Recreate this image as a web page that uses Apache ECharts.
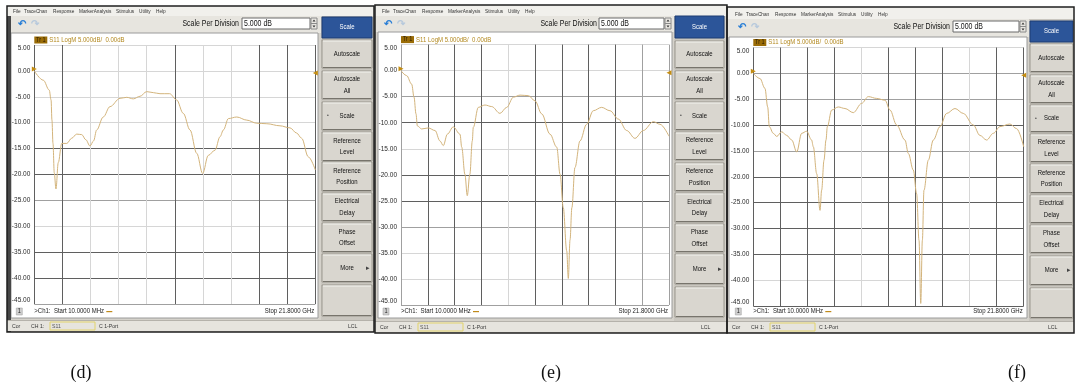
<!DOCTYPE html>
<html><head><meta charset="utf-8">
<script src="https://cdn.jsdelivr.net/npm/echarts@6/dist/echarts.min.js"></script>
<style>html,body{margin:0;padding:0;background:#fff}#c{width:1075px;height:389px}</style>
</head><body><div id="c"></div><script>
// ---- data ----
const freqD = [0.00,0.70,1.16,1.30,1.37,1.45,1.55,1.68,1.86,2.13,2.52,2.90,3.29,3.68,4.00,4.32,4.60,4.84,5.35,5.87,6.65,7.17,7.68,8.20,8.72,9.24,9.75,10.50,11.04,11.56,12.08,12.60,13.06,13.50,14.02,14.41,14.67,15.06,15.71,16.48,17.26,18.04,19.06,19.84,20.35,20.74,21.26,21.80];
const s11D  = [0.0,-1.8,-3.7,-5.6,-9.5,-14.0,-19.7,-22.8,-17.7,-14.0,-14.0,-13.0,-12.2,-12.3,-13.3,-14.5,-13.5,-11.4,-8.9,-6.9,-5.3,-5.1,-5.4,-4.9,-4.0,-4.2,-4.4,-4.4,-5.6,-8.2,-11.4,-15.9,-19.8,-16.3,-15.3,-12.7,-11.4,-9.2,-8.9,-9.5,-10.1,-10.2,-10.6,-11.0,-12.0,-13.0,-16.6,-19.1];
const freqE = [0.00,0.46,0.87,1.06,1.22,1.33,1.68,2.22,2.77,3.17,3.44,3.77,4.25,4.80,4.94,5.20,5.39,5.60,5.80,5.88,6.29,6.83,7.38,8.05,8.60,9.14,9.68,10.36,10.90,11.45,12.12,12.67,12.94,13.20,13.48,13.61,13.75,13.90,14.15,14.56,15.10,15.64,16.32,17.00,17.68,18.36,19.03,19.71,20.53,21.07,21.80];
const s11E  = [0.0,-0.96,-2.6,-5.1,-8.3,-10.6,-11.2,-11.0,-11.5,-13.5,-14.4,-12.2,-10.8,-12.2,-14.7,-19.9,-24.0,-19.9,-13.5,-10.9,-7.05,-6.6,-6.9,-8.2,-7.05,-5.1,-4.7,-4.8,-5.8,-8.3,-12.2,-14.7,-19.9,-26.3,-34.6,-39.9,-32.5,-26.3,-18.6,-13.5,-10.3,-7.7,-7.05,-7.7,-9.3,-11.5,-13.0,-11.5,-9.8,-10.3,-12.6];
const freqF = [0.00,0.54,0.94,1.16,1.29,1.61,1.89,2.29,2.69,3.10,3.50,3.90,4.30,4.70,4.84,5.11,5.38,5.51,5.70,5.86,5.97,6.32,6.85,7.39,8.06,8.74,9.27,9.95,10.62,11.02,11.56,12.23,12.50,12.90,13.17,13.36,13.50,13.63,13.76,14.11,14.51,15.05,15.59,16.26,16.93,17.74,18.27,18.81,19.35,19.89,20.69,21.23,21.80];
const s11F  = [0.0,-1.0,-2.9,-6.5,-10.3,-11.6,-12.2,-11.3,-12.0,-12.9,-15.2,-11.6,-11.2,-12.9,-14.2,-19.4,-26.5,-22.6,-16.8,-12.9,-10.3,-7.1,-6.5,-6.8,-7.6,-5.8,-4.5,-4.85,-5.2,-7.1,-10.0,-12.9,-15.5,-18.7,-23.3,-32.3,-44.5,-32.3,-22.6,-16.8,-12.9,-10.3,-7.75,-6.8,-7.75,-10.0,-12.0,-12.9,-11.6,-10.3,-9.8,-10.7,-14.2];
const yTickValues = [5,0,-5,-10,-15,-20,-25,-30,-35,-40,-45];
const xStartGHz = 0, xStopGHz = 21.8, xDivisions = 10;
const menuItems = ['File','TraceChan','Response','MarkerAnalysis','Stimulus','Utility','Help'];
const softkeys = ['Scale','Autoscale','Autoscale\nAll','Scale','Reference\nLevel','Reference\nPosition','Electrical\nDelay','Phase\nOffset','More',''];
const panelLabels = ['(d)','(e)','(f)'];
const traceHeader = 'S11 LogM 5.000dB/  0.00dB';
const scaleText = '5.000 dB';
const startText = '>Ch1:  Start 10.0000 MHz';
const stopText = 'Stop 21.8000 GHz';

// ---- layout & style ----
const DARK='#5f5f5f', MID='#a0a0a0', LIGHT='#d6d6d6';
const layouts = [
 {x0:7,x1:374,y0:6,y1:332, menuY:11, tbY:24, wx0:11, wx1:318, wy0:33, wy1:318, gl:34.3, gr:315.3, gt:45, gb:304, sx0:321, sx1:373,
  keys:[[17,38],[40,68],[71,99],[102,130],[132,161],[162,191],[193,221],[223,252],[254,282],[285,316]],
  menuX:13, spdR:239, inX0:242, inX1:310, undoX:22, capX:81,
  xCol:[DARK,DARK,LIGHT,LIGHT,LIGHT,DARK,LIGHT,LIGHT,DARK,DARK,DARK],
  yCol:[MID,DARK,DARK,LIGHT,MID,DARK,DARK,LIGHT,LIGHT,LIGHT,LIGHT], leftStrip:true},
 {x0:375,x1:727,y0:5,y1:333, menuY:11, tbY:24, wx0:378, wx1:672, wy0:32, wy1:318, gl:401, gr:669, gt:44.6, gb:305, sx0:674, sx1:725,
  keys:[[16,38],[41,68],[71,99],[102,130],[132,160],[163,191],[193,222],[224,252],[254,284],[287,317]],
  menuX:382, spdR:597, inX0:599, inX1:664, undoX:388, capX:551,
  xCol:[MID,DARK,DARK,DARK,LIGHT,DARK,DARK,DARK,DARK,MID,MID],
  yCol:[MID,LIGHT,LIGHT,MID,DARK,DARK,LIGHT,DARK,MID,LIGHT,LIGHT]},
 {x0:727,x1:1074,y0:7,y1:333, menuY:14, tbY:27, wx0:729, wx1:1027, wy0:37, wy1:318, gl:753.3, gr:1023.7, gt:47.5, gb:306, sx0:1029, sx1:1074,
  keys:[[21,42],[44,72],[75,103],[105,132],[134,162],[164,193],[195,223],[225,253],[256,285],[288,318]],
  menuX:735, spdR:950, inX0:953, inX1:1019, undoX:742, capX:1017,
  xCol:[DARK,DARK,DARK,DARK,LIGHT,DARK,DARK,DARK,LIGHT,DARK,DARK],
  yCol:[DARK,LIGHT,DARK,DARK,DARK,DARK,MID,DARK,MID,MID,LIGHT]}
];
const menuOffsets = [0,11,40,66,103,126,143];
const UIFONT = 'Liberation Sans, Arial, sans-serif';

const graphics = [];
function rect(x,y,w,h,style,z){ graphics.push({type:'rect',silent:true,z:z==null?-10:z,shape:{x:x,y:y,width:w,height:h},style:style}); }
function line(x1,y1,x2,y2,stroke,w,z){ graphics.push({type:'line',silent:true,z:z==null?-9:z,shape:{x1:x1,y1:y1,x2:x2,y2:y2},style:{stroke:stroke,lineWidth:w||1}}); }
function text(x,y,t,o){
  o=o||{};
  const al=o.align||'left', va=o.va||'middle';
  graphics.push({type:'text',silent:true,z:o.z==null?5:o.z,x:x,y:y,scaleX:o.sx==null?0.86:o.sx,
    style:{text:t,fontSize:o.size||7,fontFamily:o.family||UIFONT,fontWeight:o.weight||'normal',fill:o.fill||'#1e1e1e',
      align:al,verticalAlign:va,textAlign:al,textVerticalAlign:va,lineHeight:o.lh||12}});
}

layouts.forEach(function(L,i){
  const W=L.x1-L.x0, H=L.y1-L.y0;
  rect(L.x0,L.y0,W,H,{fill:'#d5d2cb'},-20);
  rect(L.x0,L.y0,W,L.menuY-L.y0+5,{fill:'#f1f0ec'},-19);
  menuItems.forEach(function(m,k){ text(L.menuX+menuOffsets[k],L.menuY,m,{size:5.5,fill:'#333'}); });
  rect(L.x0,L.menuY+5,L.sx0-L.x0,L.wy0-(L.menuY+5),{fill:'#e7e5df'},-19);
  text(L.undoX,L.tbY,'\u21B6',{size:10,fill:'#2b7fd6',weight:'bold',align:'center',sx:1});
  text(L.undoX+13,L.tbY,'\u21B7',{size:10,fill:'#b7c9dc',weight:'bold',align:'center',sx:1});
  text(L.spdR,L.tbY,'Scale Per Division',{size:8.5,align:'right',fill:'#111',sx:0.82});
  rect(L.inX0,L.tbY-6,L.inX1-L.inX0,11,{fill:'#ffffff',stroke:'#6b6b6b',lineWidth:1},-8);
  text(L.inX0+2,L.tbY,scaleText,{size:8.5,fill:'#111',sx:0.82});
  rect(L.inX1+1,L.tbY-6,6,11,{fill:'#e9e7e2',stroke:'#8a8a8a',lineWidth:1},-8);
  line(L.inX1+1,L.tbY-0.5,L.inX1+7,L.tbY-0.5,'#8a8a8a',1,-7);
  graphics.push({type:'polygon',silent:true,z:-6,shape:{points:[[L.inX1+2.5,L.tbY-2.5],[L.inX1+5.5,L.tbY-2.5],[L.inX1+4,L.tbY-4.5]]},style:{fill:'#333'}});
  graphics.push({type:'polygon',silent:true,z:-6,shape:{points:[[L.inX1+2.5,L.tbY+1.5],[L.inX1+5.5,L.tbY+1.5],[L.inX1+4,L.tbY+3.5]]},style:{fill:'#333'}});
  rect(L.wx0,L.wy0,L.wx1-L.wx0,L.wy1-L.wy0,{fill:'#ffffff',stroke:'#9a9a9a',lineWidth:1},-15);
  if(L.leftStrip) rect(L.x0,L.menuY+5,4,L.y1-L.menuY-5,{fill:'#474747'},-14);
  rect(L.gl,L.gt-8.5,13,7,{fill:'#9a6c07'},-5);
  text(L.gl+6.5,L.gt-5,'Tr 1',{size:6.5,fill:'#2a1a00',align:'center'});
  text(L.gl+15,L.gt-5,traceHeader,{size:7,fill:'#b3891f'});
  rect(L.gl-18,L.wy1-10,6,7,{fill:'#cfcfcf',stroke:'#9a9a9a',lineWidth:0.5},-5);
  text(L.gl-15,L.wy1-6.5,'1',{size:6.5,align:'center',fill:'#222'});
  text(L.gl,L.wy1-6.5,startText,{size:7,fill:'#222'});
  rect(L.gl+72,L.wy1-7,6,1.2,{fill:'#c08a1a'},-5);
  text(L.gr-1,L.wy1-6.5,stopText,{size:7,fill:'#222',align:'right'});
  rect(L.x0,L.y1-11,L.x1-L.x0,10,{fill:'#e6e4de'},-12);
  line(L.x0,L.y1-11.5,L.x1,L.y1-11.5,'#b5b2ab',1,-11);
  text(L.x0+5,L.y1-6,'Cor',{size:6,fill:'#333'});
  text(L.x0+24,L.y1-6,'CH 1:',{size:6,fill:'#333'});
  rect(L.x0+43,L.y1-10,45,8,{fill:'none',stroke:'#e2d36a',lineWidth:1},-10);
  text(L.x0+45,L.y1-6,'S11',{size:6,fill:'#555'});
  text(L.x0+92,L.y1-6,'C 1-Port',{size:6,fill:'#333'});
  text(L.x1-26,L.y1-6,'LCL',{size:6,fill:'#333'});
  rect(L.sx0,L.menuY+5,L.sx1-L.sx0,L.y1-11-(L.menuY+5),{fill:'#c9c6bf'},-13);
  L.keys.forEach(function(k,j){
    const blue = j===0;
    rect(L.sx0+1,k[0],L.sx1-L.sx0-2,k[1]-k[0],{fill:blue?'#2c5599':'#d9d6cf',stroke:blue?'#1d3c72':'#9b988f',lineWidth:1},-8);
    if(!blue){
      line(L.sx0+2,k[0]+1,L.sx1-2,k[0]+1,'#f4f3ef',1,-7);
      line(L.sx0+2,k[1]-0.5,L.sx1-2,k[1]-0.5,'#77746c',1,-7);
    }
    const cx=(L.sx0+L.sx1)/2, cy=(k[0]+k[1])/2;
    if(softkeys[j]) text(cx,cy,softkeys[j],{size:6.8,align:'center',fill:blue?'#ffffff':'#111',lh:11.5,sx:0.88});
    if(j===3) text(L.sx0+7,cy,'\u2022',{size:5,fill:'#444',align:'center',sx:1});
    if(j===8) text(L.sx1-5,cy,'\u25B8',{size:7,fill:'#444',align:'center',sx:1});
  });
  rect(L.x0,L.y0,W,H,{fill:'none',stroke:'#1f1f1f',lineWidth:1.5},-4);
  text(L.capX,373,panelLabels[i],{size:18,family:'Liberation Serif, Times New Roman, serif',fill:'#111',align:'center',sx:1});
});

const freqs=[freqD,freqE,freqF], vals=[s11D,s11E,s11F];
const yMax=yTickValues[0], yMin=yTickValues[yTickValues.length-1], yStep=yTickValues[0]-yTickValues[1];
const option = {
  animation:false,
  backgroundColor:'#ffffff',
  graphic:{elements:graphics},
  grid: layouts.map(function(L){return {left:L.gl,top:L.gt,width:L.gr-L.gl,height:L.gb-L.gt,containLabel:false,show:false};}),
  xAxis: layouts.map(function(L,i){return {type:'value',gridIndex:i,min:xStartGHz,max:xStopGHz,interval:(xStopGHz-xStartGHz)/xDivisions,
    axisLine:{show:false},axisTick:{show:false},axisLabel:{show:false},
    splitLine:{show:true,showMinLine:true,showMaxLine:true,lineStyle:{color:L.xCol,width:1}}};}),
  yAxis: layouts.map(function(L,i){return {type:'value',gridIndex:i,min:yMin,max:yMax,interval:yStep,
    axisLine:{show:false},axisTick:{show:false},
    axisLabel:{show:true,fontSize:6.5,fontFamily:UIFONT,color:'#2a2a2a',margin:4,
      verticalAlignMaxLabel:'top',verticalAlignMinLabel:'bottom',
      formatter:function(v){return v.toFixed(2);}},
    splitLine:{show:true,showMinLine:true,showMaxLine:true,lineStyle:{color:L.yCol,width:1}}};}),
  series: layouts.map(function(L,i){return {type:'line',xAxisIndex:i,yAxisIndex:i,
    data:freqs[i].map(function(f,k){return [f,vals[i][k]];}),
    showSymbol:false,smooth:0.35,smoothMonotone:'x',clip:true,
    lineStyle:{color:'#d3b47c',width:1},
    markPoint:{silent:true,label:{show:false},itemStyle:{color:'#c48d12'},
      data:[{coord:[xStartGHz,0],symbol:'triangle',symbolRotate:-90,symbolSize:[5,5],symbolOffset:[0,-2]},
            {coord:[xStopGHz,0],symbol:'triangle',symbolRotate:90,symbolSize:[5,5],symbolOffset:[0,2]}]}};})
};
const chart = echarts.init(document.getElementById('c'),null,{renderer:'canvas'});
chart.setOption(option);
</script></body></html>
